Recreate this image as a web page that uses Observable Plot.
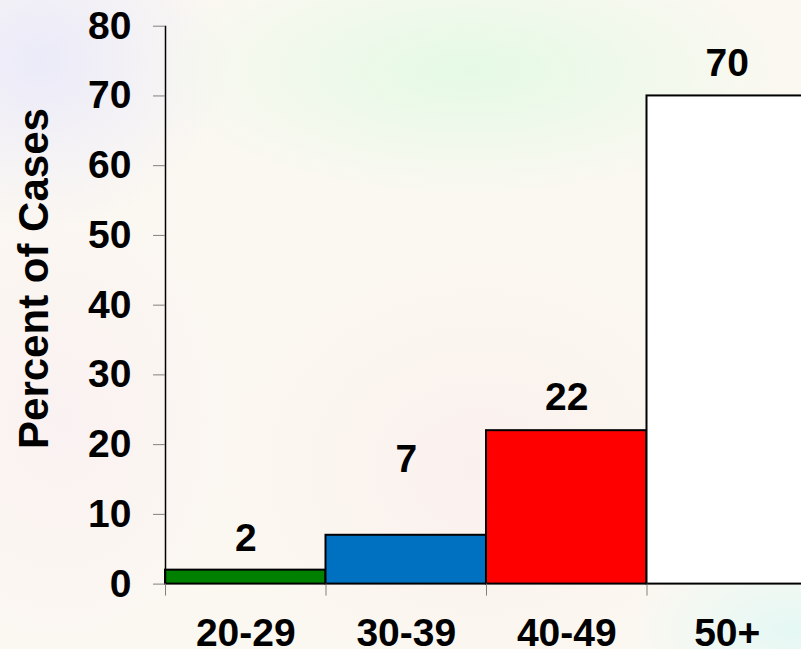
<!DOCTYPE html>
<html>
<head>
<meta charset="utf-8">
<script src="https://cdn.jsdelivr.net/npm/d3@7"></script>
<script src="https://cdn.jsdelivr.net/npm/@observablehq/plot@0.6"></script>
<style>
html, body { margin: 0; padding: 0; width: 801px; height: 649px; overflow: hidden; }
body {
  background:
    radial-gradient(ellipse 320px 130px at 470px 70px, rgba(226,250,228,0.9), rgba(226,250,228,0)),
    radial-gradient(ellipse 190px 170px at 40px 60px, rgba(234,234,250,0.95), rgba(234,234,250,0)),
    radial-gradient(ellipse 260px 220px at 480px 470px, rgba(250,238,236,0.8), rgba(250,238,236,0)),
    radial-gradient(ellipse 200px 260px at 60px 420px, rgba(250,240,242,0.8), rgba(250,240,242,0)),
    radial-gradient(ellipse 160px 90px at 790px 630px, rgba(228,248,244,0.95), rgba(228,248,244,0)),
    #fbf8f1;
}
#chart svg { display: block; }
</style>
</head>
<body>
<div id="chart"></div>
<script>
// ---- data ----
const categories = ["20-29", "30-39", "40-49", "50+"];
const percents = [2, 7, 22, 70];
const barColors = ["#008000", "#0070c0", "#ff0000", "#ffffff"];
// baseline height (in percent units) of each value label
const labelHeights = [4.8, 16.1, 24.9, 72.9];
const yTicks = [0, 10, 20, 30, 40, 50, 60, 70, 80];
const yTitle = "Percent of Cases";

const data = categories.map((c, i) => ({
  c, i, v: percents[i], color: barColors[i], ly: labelHeights[i]
}));

const font = "Arial, 'Liberation Sans', sans-serif";

const chart = Plot.plot({
  width: 801,
  height: 649,
  marginLeft: 165,
  marginRight: -6,
  marginTop: 25.7,
  marginBottom: 65.4,
  x: { domain: [0, 4], axis: null },
  y: { domain: [0, 80], axis: null },
  color: { type: "identity" },
  style: { background: "transparent", fontFamily: font, fontWeight: "bold", overflow: "hidden" },
  marks: [
    Plot.rect(data, {
      x1: "i", x2: d => d.i + 1, y1: 0, y2: "v",
      fill: "color", stroke: "black", strokeWidth: 2
    }),
    Plot.ruleX([0], { y1: 0, y2: 80, stroke: "black", strokeWidth: 1.5 }),
    Plot.axisY({
      ticks: yTicks, tickSize: 12, tickPadding: 22,
      stroke: "#808080", fill: "black",
      fontSize: 39, fontWeight: "bold", label: null
    }),
    Plot.axisX({
      ticks: [0, 1, 2, 3], tickSize: 12, tickFormat: () => "",
      stroke: "#808080", label: null
    }),
    Plot.axisX({
      ticks: categories.map((c, i) => i + 0.5), tickSize: 0, tickPadding: 34,
      tickFormat: d => categories[Math.floor(d)],
      fill: "black", fontSize: 39, fontWeight: "bold", label: null
    }),
    Plot.text(data, {
      x: d => d.i + 0.5, y: "ly", text: d => String(d.v),
      lineAnchor: "bottom", fontSize: 39, fontWeight: "bold", fill: "black"
    }),
    Plot.text([yTitle], {
      frameAnchor: "left", dx: -118, dy: -26.6, rotate: -90,
      lineAnchor: "bottom", textAnchor: "middle",
      fontSize: 42, fontWeight: "bold", fill: "black"
    })
  ]
});

document.getElementById("chart").appendChild(chart);
</script>
</body>
</html>
